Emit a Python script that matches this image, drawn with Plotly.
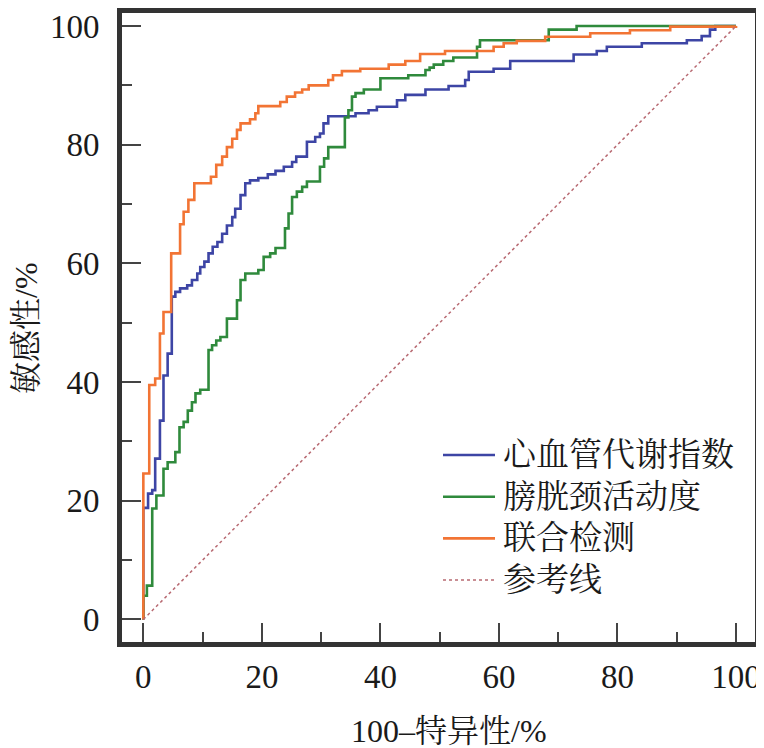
import plotly.graph_objects as go

# ROC step vertices (100-specificity %, sensitivity %)
cv_x = [0, 0.8, 1.5, 2.0, 2.8, 3.4, 4.1, 4.8, 5.4, 6.2, 7.4, 8.2, 9.1, 9.6, 10.3, 11.0,
        11.7, 12.5, 13.3, 14.1, 15.0, 15.5, 16.4, 17.2, 18.0, 19.4, 21.0, 22.3, 23.7,
        25.1, 25.8, 27.6, 29.0, 29.8, 30.4, 31.2, 35.8, 38.0, 39.4, 42.8, 44.2, 47.6,
        51.5, 54.3, 54.9, 59.1, 61.9, 72.6, 76.5, 78.2, 84.1, 91.7, 94.2, 95.6, 96.5,
        97.0, 100]
cv_y = [0, 18.8, 21.2, 21.8, 27.1, 33.5, 41.1, 44.8, 54.4, 55.2, 55.8, 56.3, 57.2, 58.3,
        59.4, 60.3, 61.7, 62.8, 63.6, 65.0, 66.4, 67.8, 69.2, 71.5, 73.5, 74.0, 74.4,
        75.0, 75.6, 76.3, 77.1, 78.0, 80.5, 81.3, 81.9, 83.6, 84.8, 85.3, 85.8, 86.4,
        87.5, 88.4, 89.3, 89.9, 90.9, 92.3, 92.8, 94.1, 95.2, 95.8, 96.5, 97.1, 97.6,
        98.3, 99.4, 100, 100]

bn_x = [0, 0.6, 1.5, 2.2, 3.4, 4.1, 5.4, 6.1, 6.8, 7.5, 8.2, 8.8, 9.6, 11.0, 11.6, 12.3,
        13.0, 14.1, 15.8, 16.4, 17.2, 19.4, 20.3, 21.4, 22.3, 23.9, 24.5, 25.1, 25.9,
        26.8, 27.6, 29.8, 30.5, 31.2, 34.0, 34.6, 35.2, 35.8, 37.2, 40.0, 44.7, 47.6,
        48.3, 49.0, 50.6, 52.3, 56.3, 56.8, 68.4, 73.1, 100]
bn_y = [0, 4.0, 5.7, 18.7, 20.9, 25.4, 26.5, 28.2, 32.4, 33.3, 35.2, 36.6, 38.1, 38.7,
        45.4, 46.2, 47.0, 47.6, 50.7, 53.8, 57.2, 58.3, 58.9, 61.1, 61.7, 62.6, 65.9,
        68.4, 71.2, 72.1, 72.9, 73.8, 76.3, 77.7, 79.6, 84.6, 85.8, 88.1, 88.7, 89.3,
        91.2, 91.7, 92.6, 93.0, 93.5, 94.1, 94.7, 96.5, 97.6, 99.4, 100]

cb_x = [0, 1.0, 2.0, 2.8, 3.4, 4.7, 6.2, 6.8, 7.6, 8.6, 11.4, 12.3, 13.3, 14.1, 15.0,
        15.8, 16.4, 18.0, 18.9, 19.4, 23.1, 24.2, 25.6, 26.8, 27.9, 31.2, 32.0, 33.5,
        36.6, 41.4, 44.2, 46.7, 50.9, 59.1, 60.8, 63.0, 67.8, 75.4, 82.1, 88.9, 100, 100]
cb_y = [0, 24.6, 39.5, 40.6, 48.2, 51.8, 61.7, 66.6, 68.7, 70.7, 73.5, 74.6, 76.6, 78.0,
        79.6, 81.0, 82.5, 83.6, 84.3, 85.3, 86.5, 87.2, 88.1, 88.8, 89.3, 90.0, 90.9,
        91.7, 92.4, 92.8, 93.5, 94.1, 95.3, 95.8, 96.5, 97.1, 97.5, 98.2, 98.8, 99.3,
        99.9, 100]

ref_x = [0, 100]
ref_y = [0, 100]

names = ["心血管代谢指数", "膀胱颈活动度", "联合检测", "参考线"]
colors = ["#3d45a5", "#2f8a3c", "#f27434", "#b86a72"]
tick_vals = [0, 20, 40, 60, 80, 100]
x_title = "100–特异性/%"
y_title = "敏感性/%"

serif = "Liberation Serif, Noto Serif CJK SC, Noto Sans CJK SC, serif"
ink = "#1a1a1a"

# the page puts the figure 8px in from the corner, so the figure is 8px smaller
W, H = 756, 740
plot_l, plot_r, plot_t, plot_b = 114, 747, 5, 634
pw, ph = plot_r - plot_l, plot_b - plot_t

fig = go.Figure()
series = [(cv_x, cv_y), (bn_x, bn_y), (cb_x, cb_y)]
for (xs, ys), name, col in zip(series, names, colors):
    fig.add_trace(go.Scatter(x=xs, y=ys, name=name, mode="lines", line_shape="vh",
                             line=dict(color=col, width=2.6), showlegend=False))
fig.add_trace(go.Scatter(x=ref_x, y=ref_y, name=names[3], mode="lines", showlegend=False,
                         line=dict(color=colors[3], width=1.5, dash="dot")))

# legend drawn by hand so the sample lines are as long as in the original
for i, (name, col) in enumerate(zip(names, colors)):
    py = 447 + 41.7 * i
    yp = (plot_b - py) / ph
    fig.add_shape(type="line", xref="paper", yref="paper",
                  x0=(435 - plot_l) / pw, x1=(487 - plot_l) / pw, y0=yp, y1=yp,
                  line=dict(color=col, width=2.6 if i < 3 else 1.5,
                            dash="solid" if i < 3 else "dot"))
    fig.add_annotation(text=name, xref="paper", yref="paper",
                       x=(493 - plot_l) / pw, y=yp, xanchor="left", yanchor="middle",
                       showarrow=False, font=dict(family=serif, size=33, color=ink))

# axis titles
fig.add_annotation(text=x_title, xref="paper", yref="paper",
                   x=(441 - plot_l) / pw, y=(plot_b - 723) / ph,
                   xanchor="center", yanchor="middle", showarrow=False,
                   font=dict(family=serif, size=32, color=ink))
fig.add_annotation(text=y_title, xref="paper", yref="paper", textangle=-90,
                   x=(18 - plot_l) / pw, y=(plot_b - 320) / ph,
                   xanchor="center", yanchor="middle", showarrow=False,
                   font=dict(family=serif, size=32, color=ink))

axis_common = dict(
    showline=True, linewidth=5, linecolor="#333333", mirror=True,
    ticks="inside", ticklen=19, tickwidth=2, tickcolor="#444444",
    tickvals=tick_vals, showgrid=False, zeroline=False, automargin=False,
    tickfont=dict(family=serif, size=33, color=ink),
    minor=dict(ticks="inside", ticklen=10, tickwidth=2, tickcolor="#444444",
               tick0=0, dtick=10, showgrid=False),
)

fig.update_layout(
    width=W, height=H,
    margin=dict(l=plot_l, r=W - plot_r, t=plot_t, b=H - plot_b),
    paper_bgcolor="white", plot_bgcolor="white",
    font=dict(family=serif, size=32, color=ink),
    showlegend=False,
    xaxis=dict(range=[-3.6, 103.2], ticklabelstandoff=1, **axis_common),
    yaxis=dict(range=[-3.8, 102.2], ticklabelstandoff=11, **axis_common),
)

fig.write_html("out.html")
